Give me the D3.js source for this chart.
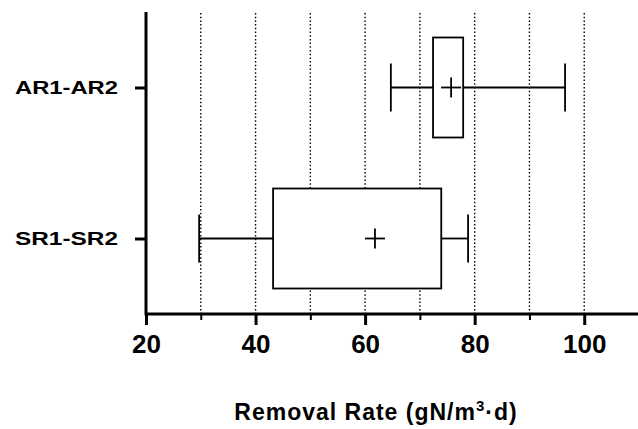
<!DOCTYPE html>
<html>
<head>
<meta charset="utf-8">
<script src="https://cdn.jsdelivr.net/npm/d3@7"></script>
<style>
  body { margin: 0; background: #fff; }
  svg { display: block; font-family: Arial, "Liberation Sans", sans-serif; }
</style>
</head>
<body>
<div id="chart"></div>
<script>
  'use strict';

  // data
  var categories = ['AR1-AR2', 'SR1-SR2'];
  var minVals = [64.7, 29.7];
  var q1Vals = [72.4, 43.2];
  var q3Vals = [77.9, 73.9];
  var maxVals = [96.5, 78.8];
  var meanVals = [75.7, 61.8];
  var majorTicks = [20, 40, 60, 80, 100];
  var minorTicks = [30, 50, 70, 90, 110];
  var gridTicks = [30, 40, 50, 60, 70, 80, 90, 100];

  var rows = categories.map(function(c, i) {
    return { cat: c, min: minVals[i], q1: q1Vals[i], q3: q3Vals[i], max: maxVals[i], mean: meanVals[i] };
  });

  var svg_width = 638;
  var svg_height = 429;
  var svg = d3.select('#chart').append('svg')
    .attr('width', svg_width)
    .attr('height', svg_height);

  var x = d3.scaleLinear().domain([20, 110]).range([146, 639]);
  var y = d3.scalePoint().domain(categories).range([12, 314]).padding(0.5);

  var box_half = 50;
  var cap_half = 24;
  var plus_half = 10;

  // dotted grid
  svg.append('g')
    .selectAll('line')
    .data(gridTicks)
    .enter()
    .append('line')
    .attr('x1', function(d) { return x(d); })
    .attr('x2', function(d) { return x(d); })
    .attr('y1', 13)
    .attr('y2', 314)
    .attr('stroke', '#000')
    .attr('stroke-width', 1.4)
    .attr('stroke-dasharray', '1.5,2.2');

  // boxes
  var g = svg.append('g')
    .selectAll('g')
    .data(rows)
    .enter()
    .append('g')
    .attr('stroke', '#000')
    .attr('stroke-width', 1.8)
    .attr('fill', 'none');

  g.append('line')
    .attr('x1', function(d) { return x(d.min); })
    .attr('x2', function(d) { return x(d.q1); })
    .attr('y1', function(d) { return y(d.cat); })
    .attr('y2', function(d) { return y(d.cat); });

  g.append('line')
    .attr('x1', function(d) { return x(d.q3); })
    .attr('x2', function(d) { return x(d.max); })
    .attr('y1', function(d) { return y(d.cat); })
    .attr('y2', function(d) { return y(d.cat); });

  g.append('line')
    .attr('x1', function(d) { return x(d.min); })
    .attr('x2', function(d) { return x(d.min); })
    .attr('y1', function(d) { return y(d.cat) - cap_half; })
    .attr('y2', function(d) { return y(d.cat) + cap_half; });

  g.append('line')
    .attr('x1', function(d) { return x(d.max); })
    .attr('x2', function(d) { return x(d.max); })
    .attr('y1', function(d) { return y(d.cat) - cap_half; })
    .attr('y2', function(d) { return y(d.cat) + cap_half; });

  g.append('rect')
    .attr('x', function(d) { return x(d.q1); })
    .attr('width', function(d) { return x(d.q3) - x(d.q1); })
    .attr('y', function(d) { return y(d.cat) - box_half; })
    .attr('height', box_half * 2)
    .attr('fill', '#fff');

  g.append('line')
    .attr('x1', function(d) { return x(d.mean) - plus_half; })
    .attr('x2', function(d) { return x(d.mean) + plus_half; })
    .attr('y1', function(d) { return y(d.cat); })
    .attr('y2', function(d) { return y(d.cat); });

  g.append('line')
    .attr('x1', function(d) { return x(d.mean); })
    .attr('x2', function(d) { return x(d.mean); })
    .attr('y1', function(d) { return y(d.cat) - plus_half; })
    .attr('y2', function(d) { return y(d.cat) + plus_half; });

  // x axis: minor then major ticks
  var xMinor = svg.append('g')
    .attr('transform', 'translate(0,314)')
    .call(d3.axisBottom(x).tickValues(minorTicks).tickSize(6).tickFormat(''));
  xMinor.select('.domain').remove();
  xMinor.selectAll('line').attr('stroke-width', 2);

  var xMajor = svg.append('g')
    .attr('transform', 'translate(0,314)')
    .call(d3.axisBottom(x).tickValues(majorTicks).tickSizeInner(11).tickSizeOuter(0).tickPadding(10));
  xMajor.select('.domain').attr('stroke-width', 3).attr('d', 'M146,0H639');
  xMajor.selectAll('.tick line').attr('stroke-width', 3);
  xMajor.selectAll('text')
    .attr('font-size', 26)
    .attr('font-weight', 'bold')
    .attr('font-family', 'Arial, "Liberation Sans", sans-serif')
    .attr('fill', '#000');

  // y axis
  var yAxis = svg.append('g')
    .attr('transform', 'translate(146,0)')
    .call(d3.axisLeft(y).tickSizeInner(11).tickSizeOuter(0).tickPadding(17));
  yAxis.select('.domain').attr('stroke-width', 3).attr('d', 'M0,12V315.5');
  yAxis.selectAll('.tick line').attr('stroke-width', 3);
  yAxis.selectAll('text')
    .attr('font-size', 18)
    .attr('font-weight', 'bold')
    .attr('font-family', 'Arial, "Liberation Sans", sans-serif')
    .attr('fill', '#000')
    .attr('textLength', 103)
    .attr('lengthAdjust', 'spacingAndGlyphs');

  // axis title
  var title = svg.append('text')
    .attr('x', 376)
    .attr('y', 420)
    .attr('text-anchor', 'middle')
    .attr('font-size', 23)
    .attr('font-weight', 'bold')
    .attr('letter-spacing', 1);
  title.append('tspan').text('Removal Rate (gN/m');
  title.append('tspan').attr('font-size', 15).attr('dy', -9).text('3');
  title.append('tspan').attr('dy', 9).text('\u00b7d)');
</script>
</body>
</html>
